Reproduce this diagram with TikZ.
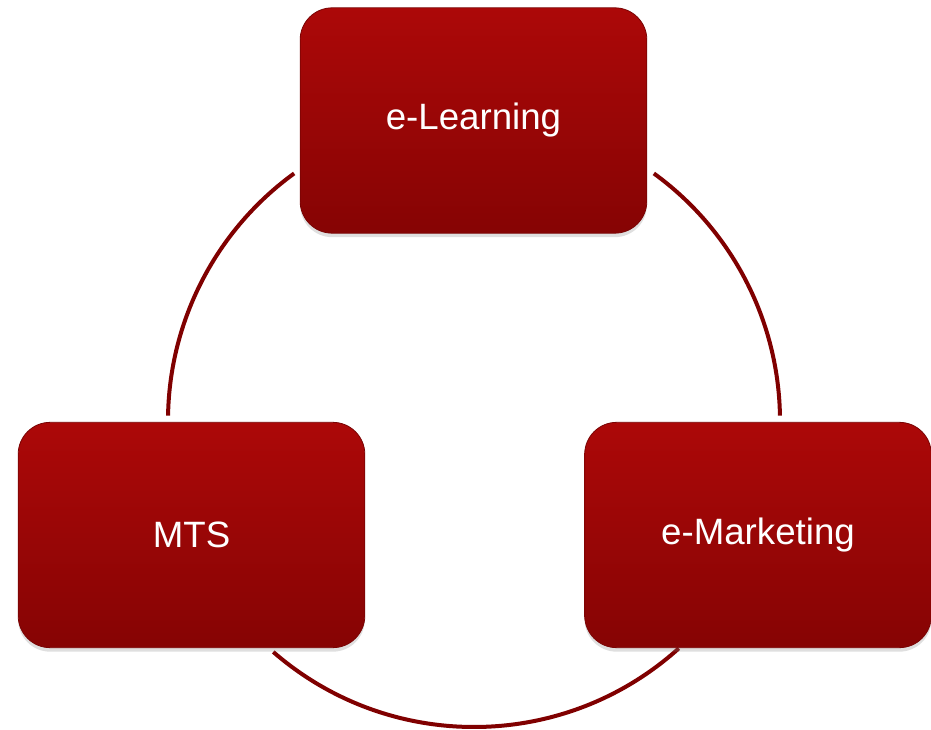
\documentclass[tikz,border=0pt]{standalone}
\usepackage{fontspec}
\setmainfont{Liberation Sans}
\usetikzlibrary{shadows}
\definecolor{boxtop}{RGB}{172,8,8}
\definecolor{boxbot}{RGB}{134,4,4}
\definecolor{ringred}{RGB}{128,0,0}
\begin{document}
\begin{tikzpicture}[x=0.75pt, y=0.75pt,
        topic/.style={rectangle, rounded corners=24pt, minimum width=260pt,
            minimum height=169pt, top color=boxtop, bottom color=boxbot,
            draw=boxbot!90!black, line width=0.6pt, text=white,
            font=\fontsize{27.5}{30}\selectfont,
            drop shadow={shadow xshift=0pt, shadow yshift=-3pt, opacity=0.25}},
        ring/.style={ringred, line width=3pt}]
        \useasboundingbox (0, 0) rectangle (931, 729);
        \def\r{306}
        \coordinate (hub) at (474, 308);
        \draw [ring] ([shift={(126:\r)}]hub) arc [start angle=126, end angle=179, radius=\r];
        \draw [ring] ([shift={(54:\r)}]hub) arc [start angle=54, end angle=1, radius=\r];
        \draw [ring] ([shift={(229:\r)}]hub) arc [start angle=229, end angle=312, radius=\r];
        \node [topic] (learn) at (473.5, 608.5) {e-Learning};
        \node [topic] (mts) at (191.5, 194) {MTS};
        \node [topic] (market) at (758, 194) {e-Marketing};
    \end{tikzpicture}
\end{document}
